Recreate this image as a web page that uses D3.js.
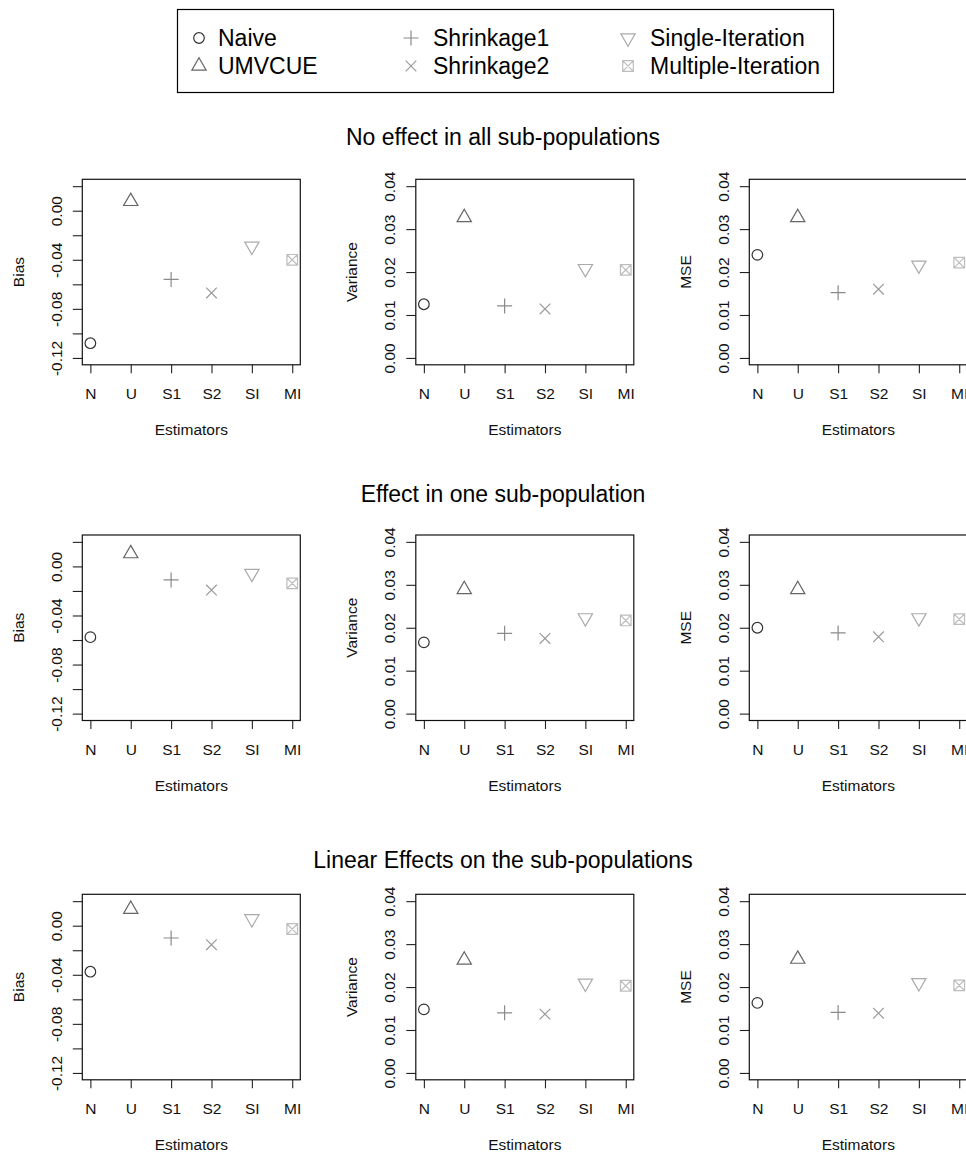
<!DOCTYPE html>
<html>
<head>
<meta charset="utf-8">
<script src="https://cdn.jsdelivr.net/npm/d3@7"></script>
<style>
  body { margin: 0; background: #fff; }
  svg { display: block; font-family: "Liberation Sans", Arial, sans-serif; }
</style>
</head>
<body>
<div id="chart"></div>
<script>
// Estimators on the x axis and the legend names that go with them
var estimators = ["N", "U", "S1", "S2", "SI", "MI"];
var estimatorNames = ["Naive", "UMVCUE", "Shrinkage1", "Shrinkage2", "Single-Iteration", "Multiple-Iteration"];

// Scenario titles (one per row)
var scenarios = ["No effect in all sub-populations", "Effect in one sub-population", "Linear Effects on the sub-populations"];

// Measures (one per column)
var measures = ["Bias", "Variance", "MSE"];

// Values: N, U, S1, S2, SI, MI
var biasNoEffect = [-0.108, 0.0076, -0.056, -0.067, -0.029, -0.040];
var varianceNoEffect = [0.0125, 0.0327, 0.0121, 0.0114, 0.0208, 0.0205];
var mseNoEffect = [0.0240, 0.0327, 0.0152, 0.0160, 0.0216, 0.0222];

var biasOneEffect = [-0.0577, 0.0104, -0.0110, -0.0193, -0.0057, -0.0138];
var varianceOneEffect = [0.0166, 0.0289, 0.0187, 0.0175, 0.0223, 0.0217];
var mseOneEffect = [0.0200, 0.0289, 0.0188, 0.0179, 0.0223, 0.0220];

var biasLinear = [-0.0375, 0.0134, -0.0100, -0.0155, 0.0056, -0.0027];
var varianceLinear = [0.0148, 0.0263, 0.0140, 0.0137, 0.0209, 0.0203];
var mseLinear = [0.0163, 0.0265, 0.0141, 0.0139, 0.0210, 0.0204];

// Tick values
var biasTicks = [-0.12, -0.10, -0.08, -0.06, -0.04, -0.02, 0.00, 0.02];
var biasLabelled = [-0.12, -0.08, -0.04, 0.00];
var varianceTicks = [0.00, 0.01, 0.02, 0.03, 0.04];

// grid of panels: rows = scenarios, columns = measures
var panelValues = [
    [biasNoEffect, varianceNoEffect, mseNoEffect],
    [biasOneEffect, varianceOneEffect, mseOneEffect],
    [biasLinear, varianceLinear, mseLinear]
];

var svgWidth = 966;
var svgHeight = 1155;

var colLefts = [82.3, 415.8, 749.3];
var rowTops = [179.3, 535, 894.3];
var titleY = [145, 502, 868];
var boxW = 218;
var boxH = 185.5;

var colors = ["#333333", "#666666", "#8a8a8a", "#9a9a9a", "#aaaaaa", "#bdbdbd"];
var s = 5.3;

// R-style plotting symbols, drawn at a scaled (cx, cy)
function symbolPath(i, cx, cy) {
    var p = d3.path();
    if (i === 0) {
        p.moveTo(cx + s, cy);
        p.arc(cx, cy, s, 0, 2 * Math.PI);
    } else if (i === 1 || i === 4) {
        var r = 1.555 * s, xc = 1.3468 * s, dir = i === 1 ? 1 : -1;
        p.moveTo(cx, cy - dir * r);
        p.lineTo(cx + xc, cy + dir * r / 2);
        p.lineTo(cx - xc, cy + dir * r / 2);
        p.closePath();
    } else if (i === 2) {
        var a = Math.SQRT2 * s;
        p.moveTo(cx - a, cy); p.lineTo(cx + a, cy);
        p.moveTo(cx, cy - a); p.lineTo(cx, cy + a);
    } else if (i === 3) {
        p.moveTo(cx - s, cy - s); p.lineTo(cx + s, cy + s);
        p.moveTo(cx - s, cy + s); p.lineTo(cx + s, cy - s);
    } else {
        p.rect(cx - s, cy - s, 2 * s, 2 * s);
        p.moveTo(cx - s, cy - s); p.lineTo(cx + s, cy + s);
        p.moveTo(cx - s, cy + s); p.lineTo(cx + s, cy - s);
    }
    return p.toString();
}

var svg = d3.select("#chart")
    .append("svg")
    .attr("width", svgWidth)
    .attr("height", svgHeight);

// Legend
var legend = svg.append("g");
legend.append("rect")
    .attr("x", 177.5)
    .attr("y", 9.5)
    .attr("width", 656)
    .attr("height", 83)
    .attr("fill", "none")
    .attr("stroke", "#000")
    .attr("stroke-width", 1.2);

var legendSymX = [199, 411, 628];
var legendTextX = [218, 433, 650];
var legendRowY = [38, 66];

estimatorNames.forEach(function (name, i) {
    var col = Math.floor(i / 2), row = i % 2;
    legend.append("path")
        .attr("d", symbolPath(i, legendSymX[col], legendRowY[row]))
        .attr("fill", "none")
        .attr("stroke", colors[i])
        .attr("stroke-width", 1.2);
    legend.append("text")
        .attr("x", legendTextX[col])
        .attr("y", legendRowY[row] + 8)
        .attr("font-size", "23px")
        .attr("fill", "#000")
        .text(name);
});

// Panels
scenarios.forEach(function (title, r) {
    svg.append("text")
        .attr("x", 503)
        .attr("y", titleY[r])
        .attr("text-anchor", "middle")
        .attr("font-size", "23px")
        .attr("fill", "#000")
        .text(title);

    measures.forEach(function (measure, c) {
        var values = panelValues[r][c];
        var left = colLefts[c], top = rowTops[r];
        var isBias = measure === "Bias";

        var g = svg.append("g")
            .attr("transform", `translate(${left}, ${top})`);

        var xScale = d3.scalePoint()
            .domain(estimators)
            .range([(0.2 / 5.4) * boxW, (5.2 / 5.4) * boxW]);

        var yLo = isBias ? -0.12 : 0.00;
        var yHi = isBias ? 0.02 : 0.04;
        var pad = (yHi - yLo) * 0.04;
        var yScale = d3.scaleLinear()
            .domain([yLo - pad, yHi + pad])
            .range([boxH, 0]);

        // x axis
        var xAxis = g.append("g")
            .attr("transform", `translate(0, ${boxH})`)
            .call(d3.axisBottom(xScale).tickSize(8.5).tickPadding(0));
        xAxis.select(".domain").remove();
        xAxis.selectAll("line").attr("stroke", "#222").attr("stroke-width", 1.1);
        xAxis.selectAll("text")
            .attr("y", 34.5)
            .attr("dy", 0)
            .attr("font-size", "15.5px")
            .attr("font-family", "Liberation Sans, Arial, sans-serif")
            .attr("fill", "#111");

        // y axis
        var yAxis = g.append("g")
            .call(d3.axisLeft(yScale)
                .tickValues(isBias ? biasTicks : varianceTicks)
                .tickSize(9.5)
                .tickFormat(function (d) {
                    if (isBias && !biasLabelled.some(function (v) { return Math.abs(v - d) < 1e-9; })) return "";
                    return d.toFixed(2);
                }));
        yAxis.select(".domain").remove();
        yAxis.selectAll("line").attr("stroke", "#222").attr("stroke-width", 1.1);
        yAxis.selectAll("text")
            .attr("transform", "rotate(-90)")
            .attr("x", 0)
            .attr("y", -20.5)
            .attr("dy", 0)
            .attr("text-anchor", "middle")
            .attr("font-size", "15.5px")
            .attr("font-family", "Liberation Sans, Arial, sans-serif")
            .attr("fill", "#111");

        // box
        g.append("rect")
            .attr("width", boxW)
            .attr("height", boxH)
            .attr("fill", "none")
            .attr("stroke", "#111")
            .attr("stroke-width", 1.2);

        // axis titles
        g.append("text")
            .attr("x", boxW / 2)
            .attr("y", boxH + 70.5)
            .attr("text-anchor", "middle")
            .attr("font-size", "15.5px")
            .attr("fill", "#111")
            .text("Estimators");

        g.append("text")
            .attr("transform", `translate(-58.5, ${boxH / 2}) rotate(-90)`)
            .attr("text-anchor", "middle")
            .attr("font-size", "15.5px")
            .attr("fill", "#111")
            .text(measure);

        // points
        g.selectAll(null)
            .data(values)
            .enter()
            .append("path")
            .attr("d", (d, i) => symbolPath(i, xScale(estimators[i]), yScale(d)))
            .attr("fill", "none")
            .attr("stroke", (d, i) => colors[i])
            .attr("stroke-width", 1.2);
    });
});
</script>
</body>
</html>
